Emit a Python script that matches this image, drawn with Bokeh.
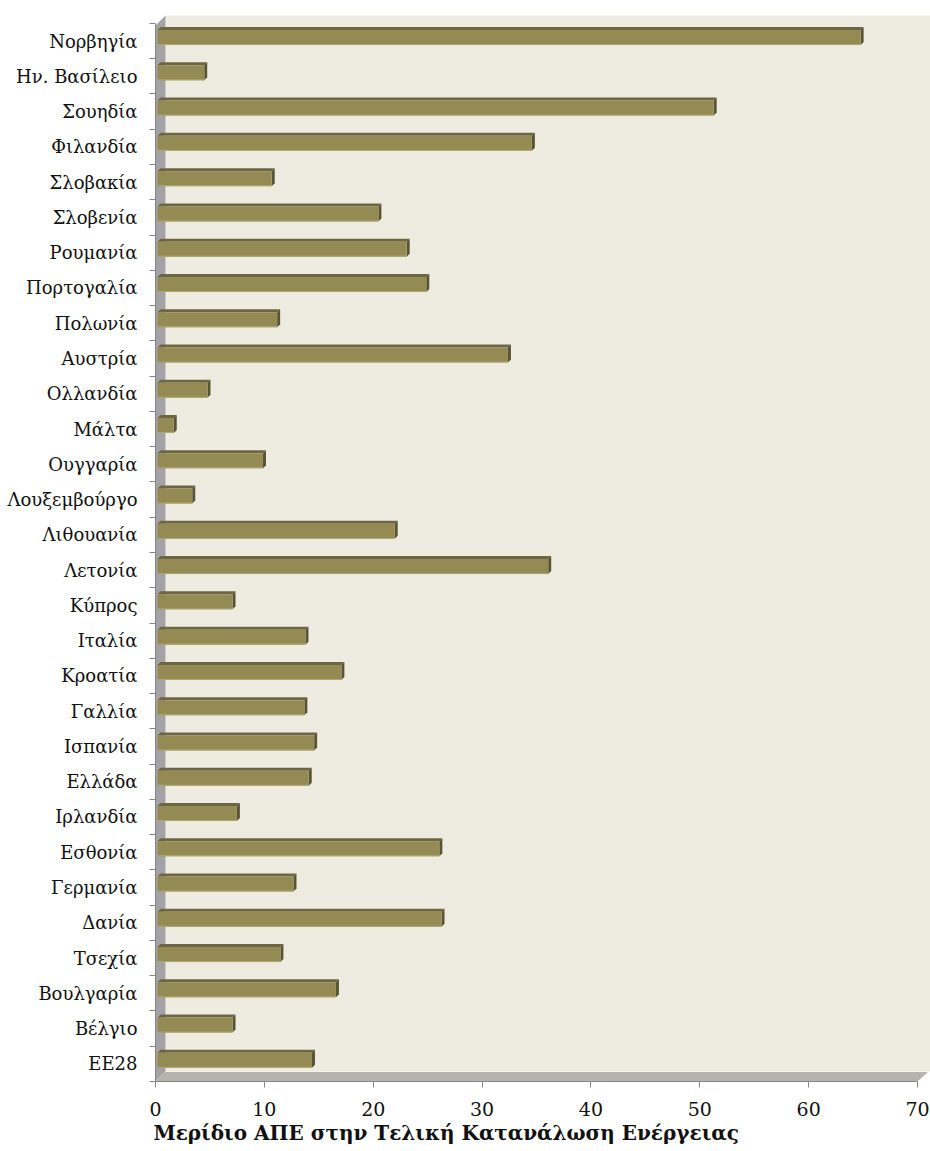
from bokeh.plotting import figure
from bokeh.models import Range1d, FixedTicker, Title, ColumnDataSource
from bokeh.embed import file_html
from bokeh.resources import INLINE

# ---- data (top to bottom as shown) ----
countries = ["Νορβηγία", "Ην. Βασίλειο", "Σουηδία", "Φιλανδία", "Σλοβακία",
             "Σλοβενία", "Ρουμανία", "Πορτογαλία", "Πολωνία", "Αυστρία",
             "Ολλανδία", "Μάλτα", "Ουγγαρία", "Λουξεμβούργο", "Λιθουανία",
             "Λετονία", "Κύπρος", "Ιταλία", "Κροατία", "Γαλλία",
             "Ισπανία", "Ελλάδα", "Ιρλανδία", "Εσθονία", "Γερμανία",
             "Δανία", "Τσεχία", "Βουλγαρία", "Βέλγιο", "ΕΕ28"]
shares = [64.5, 4.2, 51.0, 34.3, 10.4,
          20.2, 22.8, 24.6, 10.9, 32.1,
          4.5, 1.4, 9.6, 3.1, 21.7,
          35.8, 6.8, 13.5, 16.8, 13.4,
          14.3, 13.8, 7.2, 25.8, 12.4,
          26.0, 11.2, 16.3, 6.8, 14.1]
x_ticks = [0, 10, 20, 30, 40, 50, 60, 70]
x_title = "Μερίδιο ΑΠΕ στην Τελική Κατανάλωση Ενέργειας"

n = len(countries)
FONT = "DejaVu Serif"

# geometry helpers (pixels per data unit)
W, H = 930, 1151
LEFT, TOP, BOTTOM = 155, 12, 70
frame_w = W - LEFT
frame_h = H - TOP - BOTTOM
XMAX_AX = 70.0
sx = (917 - LEFT) / XMAX_AX
x_end = frame_w / sx
sy = frame_h / (n + 0.31)
y0 = -0.5
y_end = y0 + frame_h / sy

p = figure(width=W, height=H, output_backend="svg", toolbar_location=None,
           x_range=Range1d(0, x_end), y_range=Range1d(y0, y_end),
           min_border_left=LEFT, min_border_right=0, min_border_top=TOP,
           min_border_bottom=BOTTOM)
p.outline_line_color = None
p.background_fill_color = "white"
p.border_fill_color = "white"
p.xgrid.visible = False
p.ygrid.visible = False

# ---- 3D walls ----
depth_x = 10 / sx
depth_y = 10 / sy
wall_top = y0 + (1081 - 15) / sy
p.quad(left=[depth_x], right=[x_end], bottom=[y0 + depth_y], top=[wall_top],
       fill_color="#EEECE1", line_color=None)
p.patch(x=[0, 0, depth_x, depth_x],
        y=[y0, y0 + (1081 - 25) / sy, wall_top, y0 + depth_y],
        fill_color="#A3A3A6", line_color=None)
p.patch(x=[0, depth_x, XMAX_AX + 11 / sx, XMAX_AX],
        y=[y0, y0 + depth_y, y0 + depth_y, y0],
        fill_color="#B6B3AD", line_color=None)
p.line(x=[depth_x, XMAX_AX + 11 / sx], y=[y0 + depth_y, y0 + depth_y],
       line_color="#F4F2EA", line_width=1)

# ---- 3D bars ----
ys = [n - 1 - i for i in range(n)]
shift_y = 3.5 / sy
half_h = 7.5 / sy
bx0 = 2 / sx
bdx = 3 / sx
bdy = 3 / sy
lefts = [bx0] * n
rights = [v + 3 / sx for v in shares]
bots = [y + shift_y - half_h for y in ys]
tops = [y + shift_y + half_h for y in ys]

src = ColumnDataSource(dict(left=lefts, right=rights, bottom=bots, top=tops))
top_xs = [[l, l + bdx, r + bdx, r] for l, r in zip(lefts, rights)]
top_ys = [[t, t + bdy, t + bdy, t] for t in tops]
side_xs = [[r, r, r + bdx, r + bdx] for r in rights]
side_ys = [[b, t, t + bdy, b + bdy] for b, t in zip(bots, tops)]

p.patches(xs=top_xs, ys=top_ys, fill_color="#6C6642", line_color=None)
p.patches(xs=side_xs, ys=side_ys, fill_color="#5A5433", line_color=None)
p.quad(left="left", right="right", bottom="bottom", top="top", source=src,
       fill_color="#948A54", line_color=None)
p.segment(x0=lefts, y0=[b + 0.5 / sy for b in bots], x1=rights,
          y1=[b + 0.5 / sy for b in bots], line_color="#B0A874", line_width=1)

# ---- axes ----
AX = "#868686"
p.yaxis.ticker = FixedTicker(ticks=ys, minor_ticks=[i - 0.5 for i in range(n + 1)])
p.yaxis.major_label_overrides = {y: c for y, c in zip(ys, countries)}
p.yaxis.bounds = (y0, n - 0.5)
p.yaxis.axis_line_color = AX
p.yaxis.major_tick_line_color = None
p.yaxis.major_tick_out = 6
p.yaxis.major_tick_in = 0
p.yaxis.minor_tick_line_color = AX
p.yaxis.minor_tick_out = 6
p.yaxis.minor_tick_in = 0
p.yaxis.major_label_standoff = 12
p.yaxis.major_label_text_font = FONT
p.yaxis.major_label_text_font_size = "18px"
p.yaxis.major_label_text_color = "#111111"

p.xaxis.ticker = FixedTicker(ticks=x_ticks)
p.xaxis.bounds = (0, XMAX_AX)
p.xaxis.axis_line_color = AX
p.xaxis.major_tick_line_color = AX
p.xaxis.major_tick_out = 6
p.xaxis.major_tick_in = 0
p.xaxis.minor_tick_line_color = None
p.xaxis.major_label_standoff = 14
p.xaxis.major_label_text_font = FONT
p.xaxis.major_label_text_font_size = "19px"
p.xaxis.major_label_text_color = "#111111"

p.add_layout(Title(text=x_title, align="left", offset=-2, standoff=0,
                   text_font=FONT, text_font_size="20px",
                   text_font_style="bold", text_color="#111111"), "below")

open("out.html", "w").write(file_html(p, INLINE))
